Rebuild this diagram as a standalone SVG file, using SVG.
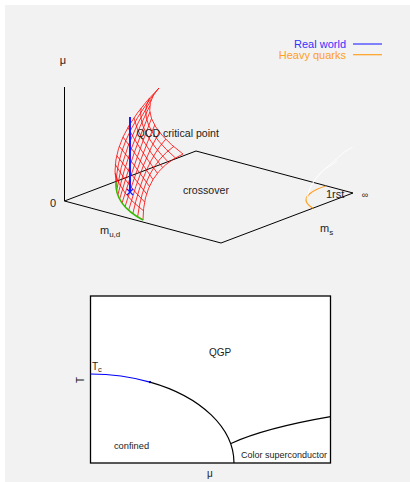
<svg xmlns="http://www.w3.org/2000/svg" width="410" height="482" viewBox="0 0 410 482">
<style>
.t{font-family:"Liberation Sans",Arial,sans-serif;fill:#222}
.ax{stroke:#000;stroke-width:1;fill:none}
.mesh path{stroke:#ff0000;stroke-width:0.8;fill:none}
</style>
<rect x="0" y="0" width="410" height="482" fill="#ffffff"/>
<rect x="5" y="5" width="405" height="477" fill="#f2f2f2"/>

<g id="plane" class="ax">
<path d="M64.5,201 L64.5,87"/>
<path d="M64.5,201 L196,151 L353,193 L221,243 Z"/>
</g>

<g id="surface" class="mesh">
<path d="M116,182 Q108.5,139 159,88"/>
<path d="M116,186.5 Q116.3,141.3 154.4,93.7"/>
<path d="M116.6,190.9 Q123.2,143.8 151.3,99.6"/>
<path d="M117.8,195.1 Q129,146.6 149.8,105.7"/>
<path d="M119.6,199.1 Q133.9,149.6 149.9,112"/>
<path d="M122,203 Q137.9,152.8 151.5,118.5"/>
<path d="M125,206.7 Q140.8,156.2 154.7,125.2"/>
<path d="M128.6,210.3 Q142.8,159.8 159.4,132.1"/>
<path d="M132.8,213.7 Q143.9,163.6 165.7,139.2"/>
<path d="M137.6,216.9 Q143.9,167.7 173.6,146.5"/>
<path d="M143,220 Q143,172 183,154"/>
<path d="M115.1,173.3 Q121.1,194.2 143.4,210.7"/>
<path d="M115.3,164.5 Q126.6,183.8 144.6,202"/>
<path d="M116.7,155.5 Q131,173.9 146.6,193.9"/>
<path d="M119.3,146.3 Q134.3,164.4 149.4,186.4"/>
<path d="M123,137 Q136.6,155.3 153,179.5"/>
<path d="M127.9,127.5 Q137.8,146.6 157.4,173.2"/>
<path d="M133.9,117.9 Q138,138.3 162.6,167.5"/>
<path d="M141.1,108.1 Q137.1,130.4 168.6,162.4"/>
<path d="M149.5,98.1 Q135.1,123 175.4,157.9"/>
<path d="M159,88 Q132,116 183,154"/>
</g>

<g id="critical-line">
<path d="M116,182 Q114.5,205 143,220" stroke="#33bb00" stroke-width="1.5" fill="none"/>
</g>

<g id="real-world">
<path d="M130,117 L130,192" stroke="#1a1aff" stroke-width="2" fill="none"/>
<path d="M127,189 L133,195 M133,189 L127,195" stroke="#1a1aff" stroke-width="1.2" fill="none"/>
</g>

<g id="heavy-quarks">
<path d="M326,186 C312,190 303,197 307,203 C309,206 311,207 313,208.3" stroke="#ffa020" stroke-width="1.3" fill="none"/>
<path d="M307,199 C309,185 318,174 333,162 L343,153 L352.5,147" stroke="#ffffff" stroke-width="0.8" fill="none"/>
<path d="M309,191 C314,178 322,170 330,166 L337,161" stroke="#ffffff" stroke-width="0.7" fill="none"/>
</g>

<g id="labels-top">
<text class="t" x="63" y="64" font-size="11" text-anchor="middle">μ</text>
<text class="t" x="53" y="207" font-size="11" text-anchor="middle">0</text>
<text class="t" x="136.5" y="137" font-size="10.6">QCD critical point</text>
<text class="t" x="206" y="194" font-size="10.6" text-anchor="middle">crossover</text>
<text class="t" x="326" y="197.5" font-size="11">1rst</text>
<text class="t" x="365" y="198" font-size="9" text-anchor="middle" fill="#555">∞</text>
<text class="t" x="320" y="232" font-size="11">m<tspan font-size="8" dy="3">s</tspan></text>
<text class="t" x="100" y="234" font-size="11">m<tspan font-size="8" dy="3">u,d</tspan></text>
</g>

<g id="legend">
<text x="346" y="48" font-size="11" text-anchor="end" font-family="Liberation Sans, Arial, sans-serif" fill="#3333ff">Real world</text>
<path d="M353,44 L382,44" stroke="#3333ff" stroke-width="1.2"/>
<text x="346" y="59" font-size="11" text-anchor="end" font-family="Liberation Sans, Arial, sans-serif" fill="#ffa020">Heavy quarks</text>
<path d="M353,54.7 L382,54.7" stroke="#ffa020" stroke-width="1.2"/>
</g>

<g id="phase-diagram">
<rect x="90.5" y="296" width="240" height="167" fill="#ffffff" stroke="#000" stroke-width="1.3"/>
<path d="M90.5,374 A144,89 0 0 1 150,382.1" stroke="#0000ff" stroke-width="1.2" fill="none"/>
<path d="M150,382.1 A144,89 0 0 1 234,463" stroke="#000" stroke-width="1.2" fill="none"/>
<circle cx="150" cy="382.1" r="1.2" fill="#000066"/>
<path d="M231,443.5 Q265,428 330.5,416.7" stroke="#000" stroke-width="1.2" fill="none"/>
<text class="t" x="220" y="355.5" font-size="10" text-anchor="middle">QGP</text>
<text class="t" x="92" y="369.5" font-size="10">T<tspan font-size="7.5" dy="2.5">c</tspan></text>
<text class="t" x="131.5" y="448.5" font-size="9.3" text-anchor="middle">confined</text>
<text class="t" x="284" y="457.5" font-size="9" text-anchor="middle">Color superconductor</text>
<text class="t" x="210" y="477" font-size="10" text-anchor="middle">μ</text>
<text class="t" x="0" y="0" font-size="10" text-anchor="middle" transform="translate(84,380) rotate(-90)">T</text>
</g>
</svg>
